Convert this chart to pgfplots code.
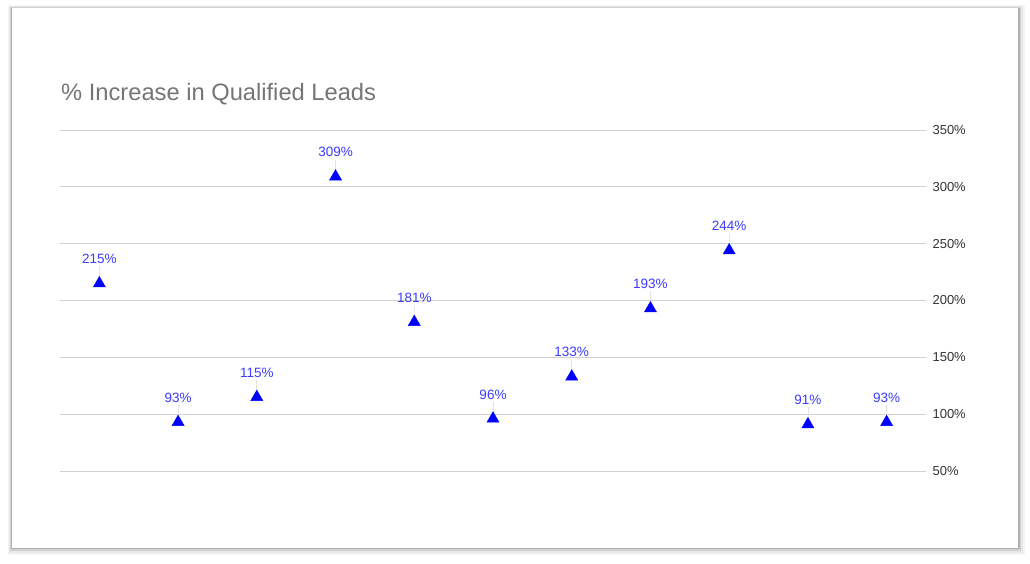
\documentclass[border=0pt]{standalone}
\usepackage{pgfplots}
\pgfplotsset{compat=1.18}
\usepackage{fontspec}
\setmainfont{Liberation Sans}
\definecolor{titlegray}{HTML}{757575}
\definecolor{tickgray}{HTML}{333333}
\definecolor{gridgray}{HTML}{D0D0D0}
\definecolor{labelblue}{HTML}{3C3CFF}
\definecolor{leadgray}{HTML}{E4E4E4}
\begin{document}
\begin{tikzpicture}[x=1pt,y=1pt]
\path[use as bounding box, fill=white] (0,0) rectangle (1030,564);
% card shadow
\fill[black!4] (8,9) rectangle (1025,559);
\fill[black!9] (9,11) rectangle (1023,558);
\fill[black!18] (10,13) rectangle (1021,557);
\fill[black!30] (11,14.5) rectangle (1019.5,556);
\fill[white] (12,16) rectangle (1018,556);
% title
\node[anchor=base west, text=titlegray, font=\fontsize{23.7}{27}\selectfont, inner sep=0pt] at (61,463) {\% Increase in Qualified Leads};
\begin{axis}[
  at={(60pt,93pt)}, anchor=south west,
  scale only axis, width=866pt, height=341pt,
  xmin=-0.5, xmax=10.5, ymin=50, ymax=350,
  axis line style={draw=none},
  major tick length=0pt,
  clip=false,
  ytick={50,100,...,350},
  ymajorgrids,
  grid style={gridgray, line width=0.9pt},
  xtick=\empty,
  yticklabel pos=right,
  /pgf/number format/assume math mode=true,
  yticklabel style={font=\fontsize{13}{15}\selectfont, text=tickgray, anchor=west, xshift=3pt},
  yticklabel={\pgfmathprintnumber{\tick}\%},
]
% faint leader lines from marker to label
\addplot[draw=none, mark=none, forget plot,
  error bars/.cd, y dir=plus, y explicit,
  error bar style={leadgray, line width=0.8pt}, error mark=none]
coordinates {
(0,219) +- (0,11) (1,97) +- (0,11) (2,119) +- (0,11) (3,313) +- (0,11) (4,185) +- (0,11) (5,100) +- (0,11)
(6,137) +- (0,11) (7,197) +- (0,11) (8,248) +- (0,11) (9,95) +- (0,11) (10,97) +- (0,11)
};
\addplot[only marks, mark=triangle*, mark size=7pt, color=blue, mark options={fill=blue, draw=blue},
  nodes near coords={\pgfmathprintnumber{\pgfplotspointmeta}\%},
  nodes near coords style={font=\fontsize{13.5}{15}\selectfont, text=labelblue, anchor=south, yshift=16pt, /pgf/number format/assume math mode=true}]
coordinates {
(0,215) (1,93) (2,115) (3,309) (4,181) (5,96) (6,133) (7,193) (8,244) (9,91) (10,93)
};
\end{axis}
\end{tikzpicture}
\end{document}
